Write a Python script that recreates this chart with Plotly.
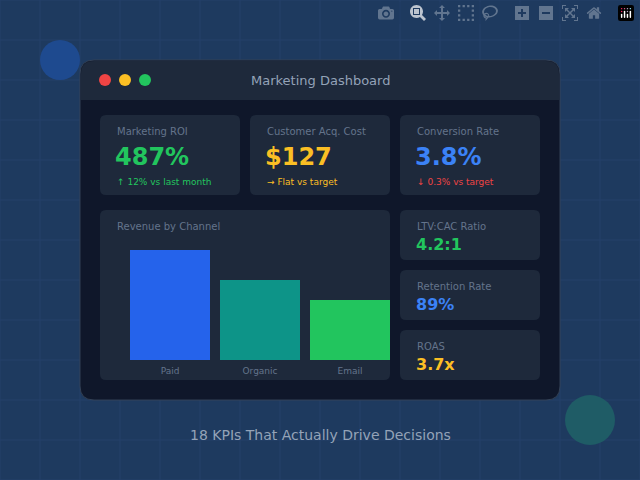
import plotly.graph_objects as go

# data
channels = ["Paid", "Organic", "Email"]
revenue = [110, 80, 60]
bar_colors = ["#2563eb", "#0d9488", "#22c55e"]

kpi_labels = ["Marketing ROI", "Customer Acq. Cost", "Conversion Rate"]
kpi_values = ["487%", "$127", "3.8%"]
kpi_notes = ["↑ 12% vs last month", "→ Flat vs target", "↓ 0.3% vs target"]
kpi_colors = ["#22c55e", "#fbbf24", "#3b82f6"]
note_colors = ["#22c55e", "#fbbf24", "#ef4444"]

side_labels = ["LTV:CAC Ratio", "Retention Rate", "ROAS"]
side_values = ["4.2:1", "89%", "3.7x"]
side_colors = ["#22c55e", "#3b82f6", "#fbbf24"]

FONT = "DejaVu Sans"


def rrect(x0, y0, x1, y1, r, fill, line=None, top_only=False):
    br = 0 if top_only else r
    p = (f"M{x0+r},{y0} L{x1-r},{y0} Q{x1},{y0} {x1},{y0+r} "
         f"L{x1},{y1-br} Q{x1},{y1} {x1-br},{y1} L{x0+br},{y1} Q{x0},{y1} {x0},{y1-br} "
         f"L{x0},{y0+r} Q{x0},{y0} {x0+r},{y0} Z")
    return dict(type="path", path=p, xref="x", yref="y", fillcolor=fill,
                line=dict(color=line or fill, width=1 if line else 0), layer="below")


shapes = []
# background grid
for g in range(0, 641, 40):
    shapes.append(dict(type="line", x0=g, x1=g, y0=0, y1=480, xref="x", yref="y",
                       line=dict(color="#24416a", width=1), layer="below"))
for g in range(0, 481, 40):
    shapes.append(dict(type="line", x0=0, x1=640, y0=g, y1=g, xref="x", yref="y",
                       line=dict(color="#24416a", width=1), layer="below"))
# decorative circles
shapes.append(dict(type="circle", x0=40, x1=80, y0=40, y1=80, xref="x", yref="y",
                   fillcolor="#1e4a8f", line_width=0, layer="below"))
shapes.append(dict(type="circle", x0=565, x1=615, y0=395, y1=445, xref="x", yref="y",
                   fillcolor="#1f5c66", line_width=0, layer="below"))
# window
shapes.append(rrect(80, 60, 560, 400, 14, "#0f172a", line="#334155"))
shapes.append(rrect(81, 61, 559, 100, 13, "#1e293b", top_only=True))
for cx, c in zip([105, 125, 145], ["#ef4444", "#fbbf24", "#22c55e"]):
    shapes.append(dict(type="circle", x0=cx-6, x1=cx+6, y0=74, y1=86, xref="x", yref="y",
                       fillcolor=c, line_width=0, layer="below"))
# cards
card_x = [100, 250, 400]
for x in card_x:
    shapes.append(rrect(x, 115, x+140, 195, 6, "#1e293b"))
shapes.append(rrect(100, 210, 390, 380, 6, "#1e293b"))
side_y = [210, 270, 330]
for y in side_y:
    shapes.append(rrect(400, y, 540, y+50, 6, "#1e293b"))

ann = []


def txt(x, y, s, size, color, bold=False, anchor="left"):
    ann.append(dict(x=x, y=y, xref="x", yref="y", text=f"<b>{s}</b>" if bold else s,
                    showarrow=False, xanchor=anchor, yanchor="middle",
                    font=dict(family=FONT, size=size, color=color)))


txt(320, 80, "Marketing Dashboard", 13, "#94a3b8", anchor="center")
for i, x in enumerate(card_x):
    txt(x+15, 131, kpi_labels[i], 10, "#64748b")
    txt(x+13, 157, kpi_values[i], 24, kpi_colors[i], bold=True)
    txt(x+15, 182, kpi_notes[i], 9, note_colors[i])
txt(115, 226, "Revenue by Channel", 10, "#64748b")
for i, y in enumerate(side_y):
    txt(415, y+16, side_labels[i], 10, "#64748b")
    txt(414, y+34, side_values[i], 16, side_colors[i], bold=True)
txt(320, 435, "18 KPIs That Actually Drive Decisions", 14, "#94a3b8", anchor="center")

fig = go.Figure()
fig.add_trace(go.Bar(x=channels, y=revenue, marker=dict(color=bar_colors, line_width=0),
                     xaxis="x2", yaxis="y2", hoverinfo="skip"))
fig.update_layout(
    width=640, height=480, margin=dict(l=0, r=0, t=0, b=0),
    paper_bgcolor="#1e3a5f", plot_bgcolor="rgba(0,0,0,0)", showlegend=False,
    xaxis=dict(range=[0, 640], visible=False, domain=[0, 1]),
    yaxis=dict(range=[480, 0], visible=False, domain=[0, 1]),
    xaxis2=dict(domain=[125/640, 395/640], anchor="y2", showgrid=False, zeroline=False,
                showline=False, ticks="", ticklabelstandoff=4,
                tickfont=dict(family=FONT, size=9, color="#64748b")),
    yaxis2=dict(domain=[120/480, 240/480], range=[0, 120], anchor="x2", visible=False),
    bargap=10/90, shapes=shapes, annotations=ann,
)
fig.write_html("out.html", post_script="document.body.style.margin='0';")
